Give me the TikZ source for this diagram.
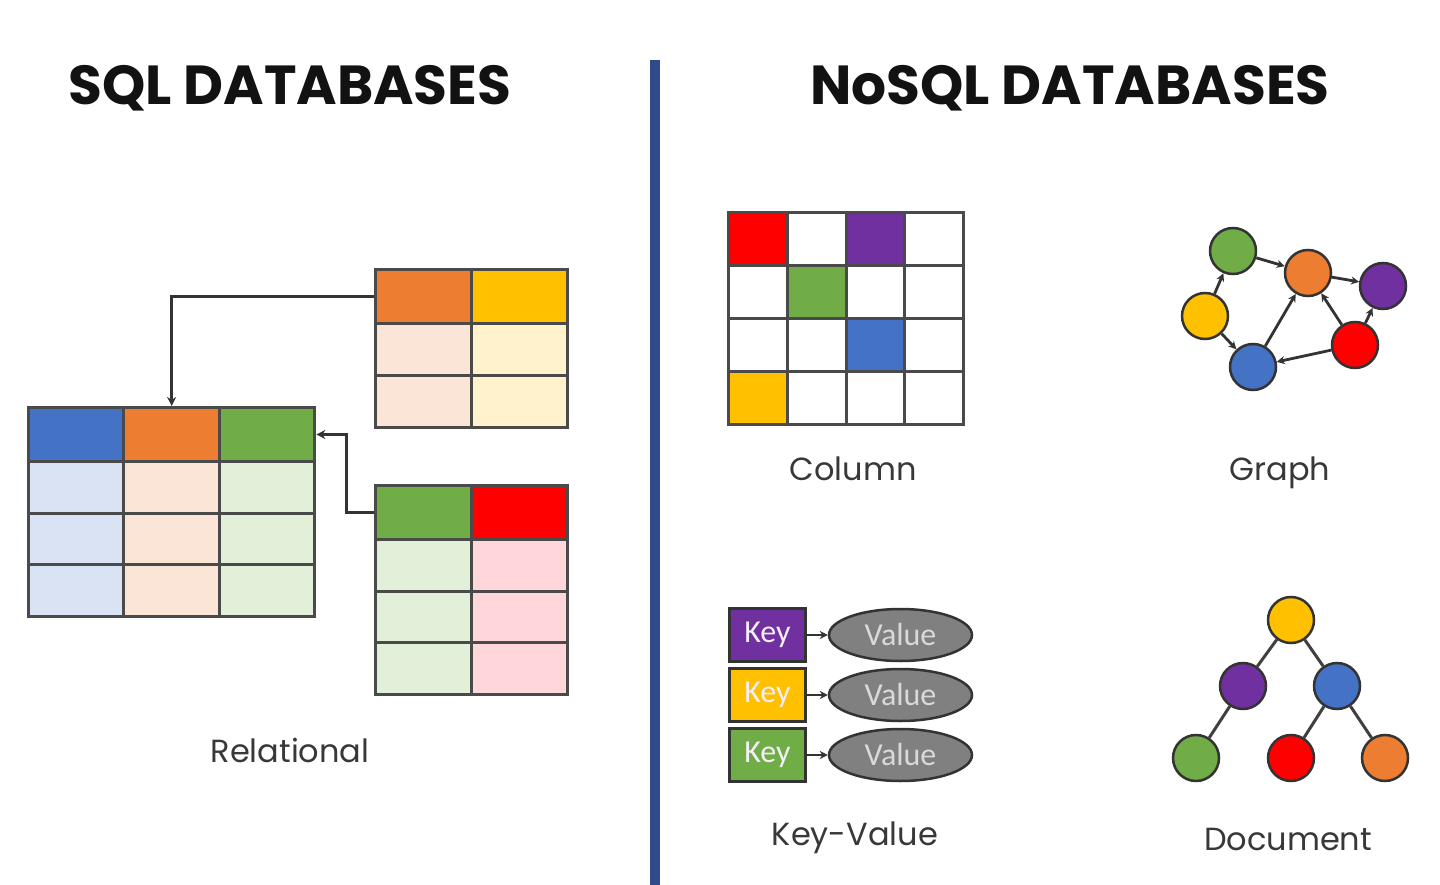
\documentclass[tikz,border=0pt]{standalone}
\usepackage{fontspec}
\setmainfont{Poppins}
\newfontfamily\keyfont{Carlito}
\usepackage{tikz}
\usetikzlibrary{positioning}
\usetikzlibrary{arrows.meta}
\usetikzlibrary{shapes.geometric}

\definecolor{cblue}{HTML}{4472C4}
\definecolor{corange}{HTML}{ED7D31}
\definecolor{cgreen}{HTML}{70AD47}
\definecolor{cyellow}{HTML}{FFC000}
\definecolor{cred}{HTML}{FF0000}
\definecolor{cpurple}{HTML}{7030A0}
\definecolor{lblue}{HTML}{DAE3F3}
\definecolor{lorange}{HTML}{FBE5D6}
\definecolor{lgreen}{HTML}{E2F0D9}
\definecolor{lyellow}{HTML}{FFF2CC}
\definecolor{lred}{HTML}{FFD7DB}
\definecolor{rule}{HTML}{2F4B8C}
\definecolor{edge}{HTML}{4A4A4A}

\begin{document}
\begin{tikzpicture}[x=1pt,y=-1pt,
  hcell/.style={draw=edge, line width=3pt, minimum width=95.7pt, minimum height=54pt, inner sep=0pt, anchor=north west},
  bcell/.style={hcell, minimum height=51.5pt},
  gcell/.style={hcell, minimum width=58.75pt, minimum height=53pt, fill=white},
  dot/.style={circle, draw=black!80, line width=2.5pt, minimum size=46pt, inner sep=0pt},
  conn/.style={draw=black!80, line width=3pt, -{Stealth[length=9pt,width=9pt]}},
  garrow/.style={draw=black!80, line width=2.8pt, -{Stealth[length=8pt,width=8pt]}},
  tree/.style={draw=black!75, line width=3pt},
  keybox/.style={draw=black!80, line width=2.8pt, minimum width=76pt, minimum height=53pt, inner sep=0pt, text=white!92!cpurple, font=\keyfont\fontsize{32}{34}\selectfont},
  valbox/.style={ellipse, draw=black!80, line width=2.5pt, fill=black!50, minimum width=143pt, minimum height=52pt, inner sep=0pt, text=black!15, font=\keyfont\fontsize{32}{34}\selectfont},
  title/.style={text=black!93, font=\bfseries\fontsize{55}{60}\selectfont},
  lbl/.style={text=black!78, anchor=base, font=\fontsize{32}{36}\selectfont}]
\useasboundingbox (0,0) rectangle (1440,885);
\fill[white] (0,0) rectangle (1440,885);

\node[title] (sqltitle) at (290,88) {SQL DATABASES};
\node[title] (nosqltitle) at (1070,88) {NoSQL DATABASES};
\fill[rule] (650,60) rectangle (660,885);

% relational
\foreach \c/\hd/\lt in {0/cblue/lblue,1/corange/lorange,2/cgreen/lgreen} {
  \node[hcell,fill=\hd] (m-0-\c) at ({27+\c*95.3},406) {};
  \foreach \r in {1,2,3}
    \node[bcell,fill=\lt] (m-\r-\c) at ({27+\c*95.3},{460+(\r-1)*51.5}) {};
}
\foreach \c/\hd/\lt in {0/corange/lorange,1/cyellow/lyellow} {
  \node[hcell,fill=\hd] (t-0-\c) at ({374+\c*96},268) {};
  \foreach \r in {1,2}
    \node[bcell,fill=\lt] (t-\r-\c) at ({374+\c*96},{322+(\r-1)*52}) {};
}
\foreach \c/\hd/\lt in {0/cgreen/lgreen,1/cred/lred} {
  \node[hcell,fill=\hd] (b-0-\c) at ({374+\c*96},484) {};
  \foreach \r in {1,2,3}
    \node[bcell,fill=\lt] (b-\r-\c) at ({374+\c*96},{538+(\r-1)*51.5}) {};
}
\draw[conn] (t-0-0.west) -| (m-0-1.north);
\draw[conn] (b-0-0.west) -- ++(-28,0) |- (m-0-2.east);
\node[lbl] (rellbl) at (290,762) {Relational};

% column
\foreach \r in {0,...,3}
  \foreach \c in {0,...,3}
    \node[gcell] (g-\r-\c) at ({727+\c*58.75},{211+\r*53}) {};
\foreach \r/\c/\col in {0/0/cred,0/2/cpurple,1/1/cgreen,2/2/cblue,3/0/cyellow}
  \node[gcell,fill=\col] (gc-\r-\c) at ({727+\c*58.75},{211+\r*53}) {};
\node[lbl] (collbl) at (853,480) {Column};

% graph
\node[dot,fill=cgreen] (ngreen) at (1233,251) {};
\node[dot,fill=corange] (norange) at (1308,273) {};
\node[dot,fill=cpurple] (npurple) at (1383,286) {};
\node[dot,fill=cyellow] (nyellow) at (1205,316) {};
\node[dot,fill=cred] (nred) at (1355,345) {};
\node[dot,fill=cblue] (nblue) at (1253,367) {};
\draw[garrow] (ngreen) -- (norange);
\draw[garrow] (nyellow) -- (ngreen);
\draw[garrow] (nyellow) -- (nblue);
\draw[garrow] (nblue) -- (norange);
\draw[garrow] (norange) -- (npurple);
\draw[garrow] (nred) -- (norange);
\draw[garrow] (nred) -- (npurple);
\draw[garrow] (nred) -- (nblue);
\node[lbl] (graphlbl) at (1280,480) {Graph};

% key-value
\foreach \i/\col/\y in {1/cpurple/635,2/cyellow/695,3/cgreen/755} {
  \node[keybox,fill=\col] (key\i) at (767.5,\y) {Key};
  \node[valbox] (val\i) at (900.5,\y) {Value};
  \draw[garrow] (key\i) -- (val\i);
}
\node[lbl] (kvlbl) at (855,845) {Key-Value};

% document
\node[dot,fill=cyellow] (droot) at (1291,620) {};
\node[dot,fill=cpurple] (dleft) at (1243,686) {};
\node[dot,fill=cblue] (dright) at (1337,686) {};
\node[dot,fill=cgreen] (dl1) at (1196,758) {};
\node[dot,fill=cred] (dr1) at (1291,758) {};
\node[dot,fill=corange] (dr2) at (1385,758) {};
\draw[tree] (droot) -- (dleft);
\draw[tree] (droot) -- (dright);
\draw[tree] (dleft) -- (dl1);
\draw[tree] (dright) -- (dr1);
\draw[tree] (dright) -- (dr2);
\node[lbl] (doclbl) at (1288,850) {Document};
\end{tikzpicture}
\end{document}
